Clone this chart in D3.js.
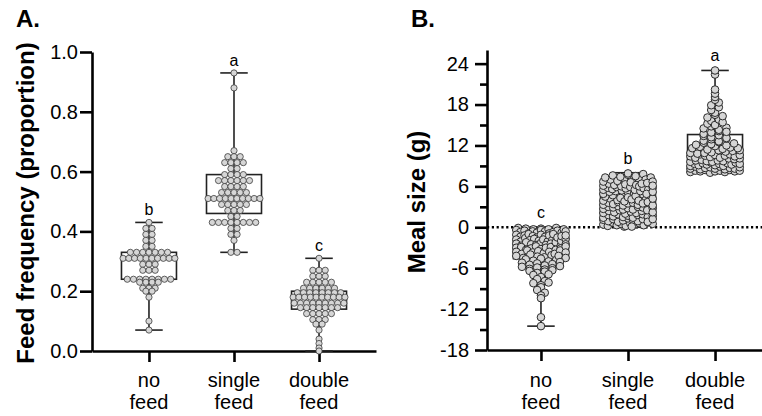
<!DOCTYPE html>
<html>
<head>
<meta charset="utf-8">
<script src="https://cdn.jsdelivr.net/npm/d3@7"></script>
<style>
  body { margin: 0; background: #fff; }
  svg { display: block; font-family: Arial, "Liberation Sans", Helvetica, sans-serif; }
</style>
</head>
<body>
<div id="chart"></div>
<script>
const w = 762;
const h = 416;

const groups = ["no feed", "single feed", "double feed"];
const groupLines = [["no", "feed"], ["single", "feed"], ["double", "feed"]];

// ---- panel A : feed frequency ----
const freqTicks = [0, 0.2, 0.4, 0.6, 0.8, 1.0];
const freqNo = [0.43, 0.41, 0.41, 0.39, 0.39, 0.37, 0.37, 0.35, 0.35,
  0.33, 0.33, 0.33, 0.33, 0.33, 0.33, 0.33,
  0.31, 0.31, 0.31, 0.31, 0.31, 0.31, 0.31, 0.31, 0.31, 0.31,
  0.29, 0.29, 0.29, 0.27, 0.27, 0.27,
  0.24, 0.24, 0.24, 0.24, 0.24, 0.24, 0.24, 0.24,
  0.23, 0.23, 0.23, 0.23, 0.21, 0.21, 0.21, 0.20, 0.20, 0.18, 0.10, 0.07];
const freqSingle = [0.93, 0.88, 0.67, 0.65, 0.65, 0.65, 0.63, 0.63, 0.63, 0.63,
  0.61, 0.61, 0.59, 0.59, 0.59, 0.59, 0.57, 0.57, 0.57, 0.57, 0.57, 0.57,
  0.55, 0.55, 0.55, 0.55, 0.53, 0.53, 0.53, 0.53, 0.53,
  0.51, 0.51, 0.51, 0.51, 0.51, 0.51, 0.51, 0.51, 0.51, 0.51,
  0.49, 0.49, 0.49, 0.49, 0.49, 0.47, 0.47, 0.47, 0.45, 0.45,
  0.43, 0.43, 0.43, 0.43, 0.43, 0.43, 0.43, 0.43,
  0.41, 0.41, 0.39, 0.39, 0.37, 0.33, 0.33];
const freqDouble = [0.31, 0.27, 0.27, 0.27, 0.25, 0.25, 0.25,
  0.23, 0.23, 0.23, 0.23, 0.23, 0.21, 0.21, 0.21, 0.21, 0.21, 0.21,
  0.195, 0.195, 0.195, 0.195, 0.195, 0.195, 0.195, 0.195,
  0.18, 0.18, 0.18, 0.18, 0.18, 0.18, 0.18, 0.18, 0.18, 0.18,
  0.16, 0.16, 0.16, 0.16, 0.16, 0.16, 0.16, 0.16, 0.16,
  0.145, 0.145, 0.145, 0.145, 0.145, 0.145, 0.145,
  0.125, 0.125, 0.125, 0.125, 0.125, 0.105, 0.105, 0.105,
  0.09, 0.09, 0.07, 0.04, 0.025, 0.01, 0.0];
const freqMin = [0.07, 0.33, 0.0];
const freqQ1 = [0.24, 0.46, 0.14];
const freqMed = [0.31, 0.51, 0.18];
const freqQ3 = [0.33, 0.59, 0.20];
const freqMax = [0.43, 0.93, 0.31];
const freqLetters = ["b", "a", "c"];

// ---- panel B : meal size ----
const mealMajor = [-18, -12, -6, 0, 6, 12, 18, 24];
const mealMinor = [-15, -9, -3, 3, 9, 15, 21];
const mealNo = [-0.1, -0.4, -0.2, -0.7, -0.3, -1.1, -0.5, -0.9, -1.4, -0.2, -0.6, -1.8, -1.2, -0.8, -2.1, -1.6, -0.4, -1.0, -2.4, -1.3,
  -2.7, -0.6, -1.9, -3.0, -1.5, -2.2, -0.3, -2.9, -1.7, -3.3, -2.5, -1.1, -3.6, -2.0, -0.9, -3.1, -2.6, -3.9, -1.4, -2.3,
  -4.2, -3.4, -1.8, -2.8, -4.5, -3.7, -0.1, -2.1, -4.0, -3.2, -1.2, -4.7, -2.6, -3.5, -0.7, -4.3, -1.9, -3.8, -2.4, -4.9,
  -3.0, -1.6, -4.4, -2.9, -0.5, -3.6, -4.1, -2.2, -1.0, -4.6, -3.3, -2.7, -5.0, -1.5, -3.9, -0.8, -4.8, -2.0, -3.1, -1.3,
  -0.3, -1.7, -2.5, -3.4, -4.2, -0.6, -2.8, -3.7, -4.5, -1.2,
  -5.2, -5.5, -5.3, -5.8, -6.1, -5.6, -6.4, -5.9, -6.7, -6.2, -7.0, -5.4, -6.5, -7.3, -6.0, -7.6, -5.1, -5.7, -6.3, -6.9,
  -7.9, -8.2, -8.5, -8.1, -8.8, -9.2, -9.6, -10.0, -10.4, -13.2, -14.5];
const mealSingle = [0.1, 0.4, 0.2, 0.7, 0.3, 1.1, 0.5, 0.9, 1.4, 0.2, 0.6, 1.8, 1.2, 0.8, 2.1, 1.6, 0.4, 1.0, 2.4, 1.3,
  2.7, 0.6, 1.9, 3.0, 1.5, 2.2, 0.3, 2.9, 1.7, 3.3, 2.5, 1.1, 3.6, 2.0, 0.9, 3.1, 2.6, 3.9, 1.4, 2.3,
  4.2, 3.4, 1.8, 2.8, 4.5, 3.7, 0.1, 2.1, 4.0, 3.2, 1.2, 4.7, 2.6, 3.5, 0.7, 4.3, 1.9, 3.8, 2.4, 4.9,
  5.2, 5.5, 5.3, 5.8, 6.1, 5.6, 6.4, 5.9, 6.7, 6.2, 7.0, 5.4, 6.5, 7.3, 6.0, 7.6, 5.1, 6.8, 5.7, 7.1,
  3.0, 4.4, 2.9, 5.0, 3.6, 4.1, 6.3, 7.4, 4.6, 3.3, 5.9, 2.7, 6.9, 4.8, 7.7, 3.9, 5.5, 6.6, 7.9, 4.0,
  6.2, 7.2, 5.3, 7.5, 6.0, 7.8, 5.7, 7.0, 6.4, 7.3,
  0.5, 1.5, 2.5, 3.5, 4.5, 5.5, 6.5, 0.8, 1.7, 2.8, 3.7, 4.9, 5.8, 6.7, 1.2, 2.2, 3.2, 4.2, 5.2, 6.1];
const mealDouble = [8.1, 8.3, 8.2, 8.6, 8.4, 8.9, 8.0, 8.5, 8.7, 8.2, 8.8, 8.3, 8.6, 8.1, 8.4, 8.9, 8.5, 8.7, 8.2, 8.6, 8.3, 8.8,
  9.0, 9.3, 9.1, 9.6, 9.4, 9.8, 9.2, 9.5, 9.9, 9.1, 9.7, 9.3, 9.6, 9.0, 9.4, 9.8, 9.2, 9.5, 9.7, 9.3,
  10.1, 10.4, 10.2, 10.7, 10.5, 10.9, 10.0, 10.3, 10.8, 10.6, 10.2, 10.5, 10.9, 10.1, 10.7, 10.4, 10.6,
  11.0, 11.3, 11.6, 11.1, 11.8, 11.4, 11.2, 11.9, 11.5, 11.7, 11.3, 11.6,
  12.1, 12.4, 12.7, 12.2, 12.9, 12.5, 12.0, 12.6, 12.3,
  13.0, 13.4, 13.7, 13.2, 13.9, 13.5, 13.1,
  14.1, 14.5, 14.8, 14.3, 14.6, 14.0,
  15.2, 15.6, 15.0, 15.8, 15.4, 16.1, 16.5, 16.8, 16.3,
  17.2, 17.6, 17.9, 18.3, 18.7, 19.1, 19.6, 20.2, 22.4, 23.0];
const mealMin = [-14.5, 0.0, 8.0];
const mealQ1 = [-4.6, 1.2, 9.5];
const mealMed = [-3.0, 3.0, 11.2];
const mealQ3 = [-1.6, 5.1, 13.6];
const mealMax = [0.0, 8.0, 23.0];
const mealLetters = ["c", "b", "a"];

const svg = d3.select("#chart").append("svg")
  .attr("width", w).attr("height", h);

// beeswarm: points that fall in the same pixel row are spread sideways,
// squeezed together when the row is wider than maxW
function swarm(vals, y, binPx, d, maxW) {
  const pts = vals.map(v => ({ v: v, y: y(v), dx: 0 }));
  const rows = d3.group(pts, p => Math.round(p.y / binPx));
  rows.forEach(row => {
    const n = row.length;
    const step = n > 1 ? Math.min(d, (maxW - d) / (n - 1)) : 0;
    row.forEach((p, i) => p.dx = (i - (n - 1) / 2) * step);
  });
  return pts;
}

function drawPanel(p) {
  const g = svg.append("g");
  const y = d3.scaleLinear().domain(p.domain).range([p.yBot, p.yTop]);
  const x = d3.scalePoint().domain(groups).range(p.xRange).padding(p.pad);

  g.append("text").attr("x", p.tagX).attr("y", 27)
    .attr("font-size", 24).attr("font-weight", "bold").text(p.tag);

  g.append("text")
    .attr("transform", "translate(" + p.titleX + "," + p.titleY + ") rotate(-90)")
    .attr("text-anchor", "middle").attr("font-size", 24).attr("font-weight", "bold")
    .text(p.title);

  if (p.zeroLine) {
    g.append("line")
      .attr("x1", p.xRange[0]).attr("x2", w)
      .attr("y1", y(0)).attr("y2", y(0))
      .attr("stroke", "#000").attr("stroke-width", 2.5)
      .attr("stroke-dasharray", "2.2,2.6");
  }

  // y axis
  const yAxis = g.append("g")
    .attr("transform", "translate(" + p.xRange[0] + ",0)")
    .call(d3.axisLeft(y).tickValues(p.major).tickSize(12).tickSizeOuter(0)
      .tickPadding(p.tickPad).tickFormat(p.fmt));
  if (p.minor) {
    g.append("g")
      .attr("transform", "translate(" + p.xRange[0] + ",0)")
      .call(d3.axisLeft(y).tickValues(p.minor).tickSize(7).tickSizeOuter(0).tickFormat(""))
      .call(a => a.select(".domain").remove());
  }

  // x axis
  g.append("g")
    .attr("transform", "translate(0," + p.yBot + ")")
    .call(d3.axisBottom(x).tickSize(11).tickSizeOuter(0).tickFormat(""));

  g.selectAll(".domain, .tick line")
    .attr("stroke", "#000").attr("stroke-width", 2.6);
  yAxis.selectAll("text").attr("font-size", 20).attr("fill", "#000")
    .attr("font-family", "Arial, 'Liberation Sans', sans-serif");

  groupLines.forEach((lines, i) => {
    const t = g.append("text").attr("text-anchor", "middle").attr("font-size", 20);
    lines.forEach((s, j) => {
      t.append("tspan").attr("x", x(groups[i])).attr("y", 387 + j * 22).text(s);
    });
  });

  // boxes, whiskers, points
  groups.forEach((grp, i) => {
    const cx = x(grp);
    const bw = p.boxW;
    const bg = g.append("g").attr("stroke", "#222").attr("stroke-width", 1.6).attr("fill", "none");
    bg.append("line").attr("x1", cx).attr("x2", cx).attr("y1", y(p.q3[i])).attr("y2", y(p.max[i]));
    bg.append("line").attr("x1", cx).attr("x2", cx).attr("y1", y(p.q1[i])).attr("y2", y(p.min[i]));
    [p.max[i], p.min[i]].forEach(v => {
      bg.append("line").attr("x1", cx - bw / 4).attr("x2", cx + bw / 4)
        .attr("y1", y(v)).attr("y2", y(v));
    });
    bg.append("rect").attr("x", cx - bw / 2).attr("width", bw)
      .attr("y", y(p.q3[i])).attr("height", y(p.q1[i]) - y(p.q3[i]));
    bg.append("line").attr("x1", cx - bw / 2).attr("x2", cx + bw / 2)
      .attr("y1", y(p.med[i])).attr("y2", y(p.med[i]));

    const pts = swarm(p.values[i], y, p.binPx, p.r * 2, p.maxW);
    g.append("g").selectAll("circle").data(pts).join("circle")
      .attr("cx", d => cx + d.dx).attr("cy", d => d.y).attr("r", p.r)
      .attr("fill", "#d6d6d6").attr("stroke", p.dotStroke).attr("stroke-width", p.dotSw);

    g.append("text").attr("x", cx).attr("y", y(p.max[i]) - p.letterGap)
      .attr("text-anchor", "middle").attr("font-size", 16).text(p.letters[i]);
  });
}

drawPanel({
  tag: "A.", tagX: 16, title: "Feed frequency (proportion)", titleX: 34, titleY: 203,
  domain: [0, 1], yTop: 52, yBot: 351, xRange: [92, 376], pad: 0.67,
  major: freqTicks, minor: null, fmt: d3.format(".1f"), tickPad: 2,
  values: [freqNo, freqSingle, freqDouble],
  min: freqMin, q1: freqQ1, med: freqMed, q3: freqQ3, max: freqMax, letters: freqLetters,
  boxW: 55, r: 3.1, maxW: 58, binPx: 1, letterGap: 7, zeroLine: false,
  dotStroke: "#3a3a3a", dotSw: 0.8
});

drawPanel({
  tag: "B.", tagX: 411, title: "Meal size (g)", titleX: 425, titleY: 202,
  domain: [-18, 26], yTop: 50, yBot: 350, xRange: [487, 769], pad: 0.62,
  major: mealMajor, minor: mealMinor, fmt: d => String(d), tickPad: 6,
  values: [mealNo, mealSingle, mealDouble],
  min: mealMin, q1: mealQ1, med: mealMed, q3: mealQ3, max: mealMax, letters: mealLetters,
  boxW: 55, r: 3.8, maxW: 57, binPx: 4, letterGap: 9, zeroLine: true,
  dotStroke: "#2a2a2a", dotSw: 1
});
</script>
</body>
</html>
